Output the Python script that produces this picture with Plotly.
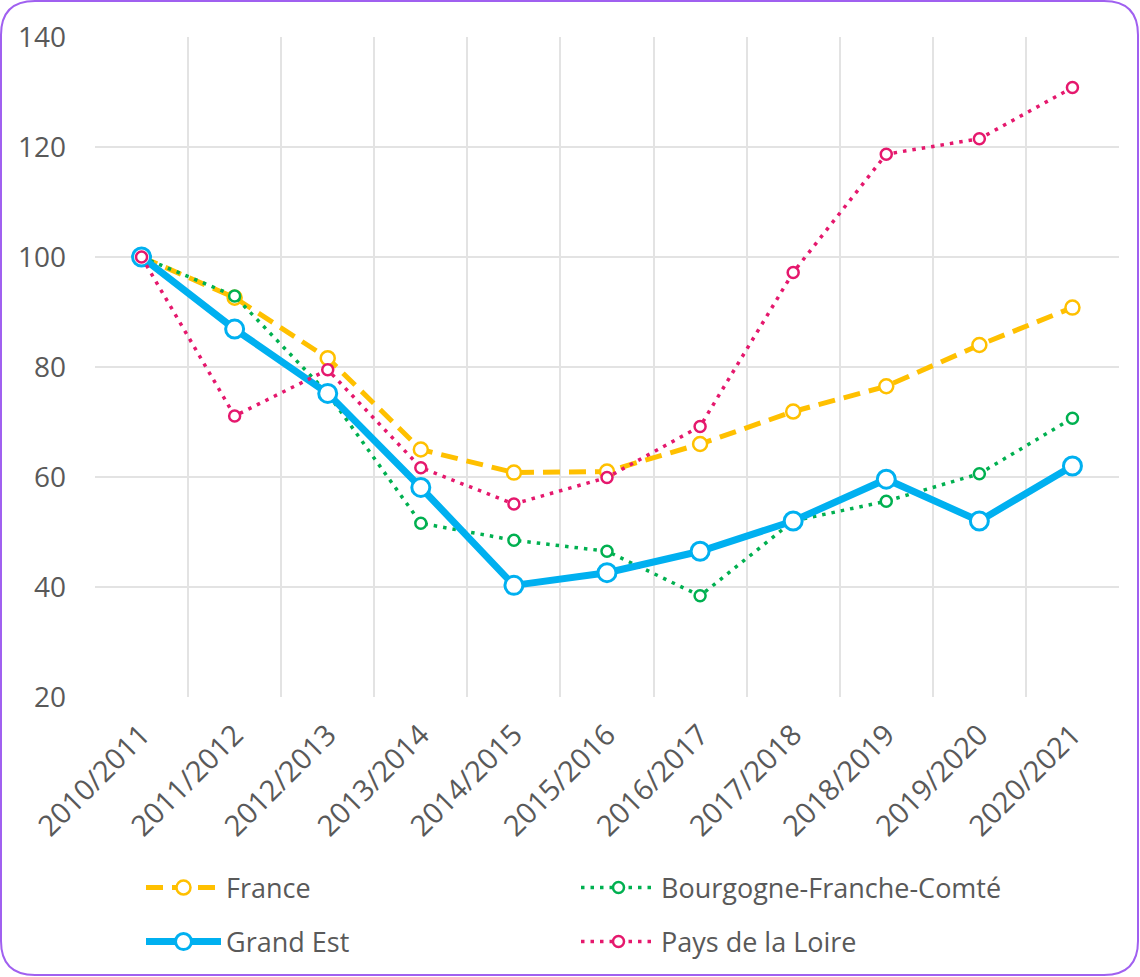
import plotly.graph_objects as go

seasons = ["2010/2011", "2011/2012", "2012/2013", "2013/2014", "2014/2015",
           "2015/2016", "2016/2017", "2017/2018", "2018/2019", "2019/2020", "2020/2021"]

france = [100, 92.6, 81.6, 65.0, 60.8, 61.0, 66.0, 71.9, 76.5, 84.0, 90.8]
bourgogne_fc = [100, 92.9, 75.2, 51.6, 48.5, 46.5, 38.4, 52.0, 55.6, 60.6, 70.7]
grand_est = [100, 86.9, 75.2, 58.1, 40.3, 42.6, 46.5, 52.0, 59.6, 52.0, 62.0]
pays_loire = [100, 71.1, 79.5, 61.7, 55.1, 59.9, 69.2, 97.2, 118.7, 121.5, 130.8]

W, H = 1140, 977
ML, MR, MT, MB = 95, 21, 37, 280
TXT = "#595959"
FONT = "Open Sans, sans-serif"

fig = go.Figure()

fig.add_trace(go.Scatter(
    x=seasons, y=france, name="France", mode="lines+markers",
    line=dict(color="#FFC000", width=5, dash="17px,9px"),
    marker=dict(symbol="circle", size=14, color="white",
                line=dict(color="#FFC000", width=2.5)),
    legend="legend",
))
fig.add_trace(go.Scatter(
    x=seasons, y=bourgogne_fc, name="Bourgogne-Franche-Comté", mode="lines+markers",
    line=dict(color="#00B050", width=3.5, dash="3.5px,6px"),
    marker=dict(symbol="circle", size=11, color="white",
                line=dict(color="#00B050", width=2.5)),
    legend="legend",
))
fig.add_trace(go.Scatter(
    x=seasons, y=grand_est, name="Grand Est", mode="lines+markers",
    line=dict(color="#00B0F0", width=7),
    marker=dict(symbol="circle", size=18, color="white",
                line=dict(color="#00B0F0", width=3)),
    legend="legend2",
))
fig.add_trace(go.Scatter(
    x=seasons, y=pays_loire, name="Pays de la Loire", mode="lines+markers",
    line=dict(color="#E5186D", width=3.5, dash="3.5px,6px"),
    marker=dict(symbol="circle", size=11, color="white",
                line=dict(color="#E5186D", width=2.5)),
    legend="legend2",
))

# rounded frame around the whole figure, expressed in paper coordinates
pw, ph = W - ML - MR, H - MT - MB


def px(x):
    return (x - ML) / pw


def py(y):
    return (H - MB - y) / ph


x0, y0, x1, y1, r = 1, 1, W - 2, H - 2, 34
path = (
    f"M {px(x0 + r)},{py(y0)} L {px(x1 - r)},{py(y0)} "
    f"Q {px(x1)},{py(y0)} {px(x1)},{py(y0 + r)} "
    f"L {px(x1)},{py(y1 - r)} Q {px(x1)},{py(y1)} {px(x1 - r)},{py(y1)} "
    f"L {px(x0 + r)},{py(y1)} Q {px(x0)},{py(y1)} {px(x0)},{py(y1 - r)} "
    f"L {px(x0)},{py(y0 + r)} Q {px(x0)},{py(y0)} {px(x0 + r)},{py(y0)} Z"
)
fig.add_shape(type="path", path=path, xref="paper", yref="paper",
              line=dict(color="#A060F0", width=2), layer="above")

legend_common = dict(
    orientation="h", xref="container", yref="container",
    xanchor="left", yanchor="middle",
    font=dict(family=FONT, size=27, color=TXT),
    entrywidth=345, entrywidthmode="pixels", itemwidth=75,
    bgcolor="rgba(0,0,0,0)",
)

fig.update_layout(
    width=W, height=H,
    margin=dict(l=ML, r=MR, t=MT, b=MB, autoexpand=False),
    paper_bgcolor="white", plot_bgcolor="white",
    font=dict(family=FONT, color=TXT),
    legend=dict(x=141 / W, y=1 - 888 / H, **legend_common),
    legend2=dict(x=141 / W, y=1 - 942 / H, **legend_common),
    xaxis=dict(
        type="category", range=[-0.5, 10.5], tickson="boundaries",
        showgrid=True, gridcolor="#E3E3E3", gridwidth=1.5,
        showline=False, zeroline=False, ticks="",
        tickangle=-45, tickfont=dict(family=FONT, size=29, color=TXT),
        ticklabelstandoff=14,
    ),
    yaxis=dict(
        range=[20, 140], dtick=20, tick0=20,
        showgrid=True, gridcolor="#E3E3E3", gridwidth=1.5,
        showline=False, zeroline=False, ticks="",
        tickfont=dict(family=FONT, size=28, color=TXT),
        ticklabelstandoff=28,
    ),
)

fig.write_html("out.html")
